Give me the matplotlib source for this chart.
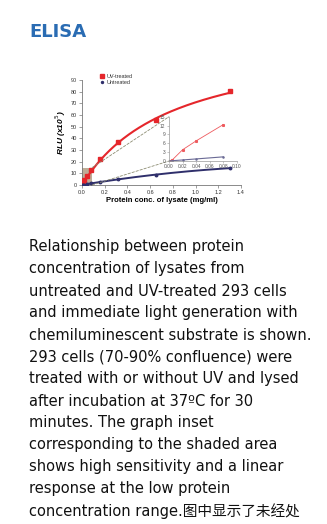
import numpy as np
import matplotlib
matplotlib.use("Agg")
import matplotlib.pyplot as plt
from matplotlib.patches import Rectangle, ConnectionPatch

# ---- data ----
conc = [0.0, 0.01, 0.02, 0.04, 0.08, 0.16, 0.32, 0.65, 1.3]
uv_treated = [0.5, 2.0, 4.3, 7.4, 12.5, 22.0, 36.5, 56.0, 80.5]
untreated = [0.0, 0.2, 0.4, 0.7, 1.4, 2.8, 5.3, 8.5, 14.5]

inset_conc = [0.0, 0.005, 0.02, 0.04, 0.08]
inset_uv = [0.0, 0.4, 3.8, 6.8, 12.3]
inset_untreated = [0.0, 0.1, 0.35, 0.7, 1.4]

main_xticks = [0.0, 0.2, 0.4, 0.6, 0.8, 1.0, 1.2, 1.4]
main_yticks = [0, 10, 20, 30, 40, 50, 60, 70, 80, 90]
inset_xticks = [0.00, 0.02, 0.04, 0.06, 0.08, 0.10]
inset_yticks = [0, 3, 6, 9, 12, 15]

paragraph = [
    "Relationship between protein",
    "concentration of lysates from",
    "untreated and UV-treated 293 cells",
    "and immediate light generation with",
    "chemiluminescent substrate is shown.",
    "293 cells (70-90% confluence) were",
    "treated with or without UV and lysed",
    "after incubation at 37ºC for 30",
    "minutes. The graph inset",
    "corresponding to the shaded area",
    "shows high sensitivity and a linear",
    "response at the low protein",
    "concentration range.图中显示了未经处",
]

RED = "#e5262b"
NAVY = "#2f2f6b"
W, H = 327, 524
fig = plt.figure(figsize=(W / 100, H / 100), dpi=100)
fig.patch.set_facecolor("white")

def fx(px):
    return px / W

def fy(py):
    return 1 - py / H

# title
fig.text(fx(29), fy(32), "ELISA", color="#2a6cb3", fontsize=13, fontweight="bold",
         family="DejaVu Sans", va="center", ha="left")

chart_font = "Liberation Sans"
# main axes
ax = fig.add_axes([fx(82), fy(185), fx(241) - fx(82), fy(80) - fy(185)])
ax.set_xlim(0, 1.4)
ax.set_ylim(0, 90)
for s in ["top", "right"]:
    ax.spines[s].set_visible(False)
for s in ["left", "bottom"]:
    ax.spines[s].set_color("#777777")
    ax.spines[s].set_linewidth(0.6)
ax.set_xticks(main_xticks)
ax.set_xticklabels([f"{v:.1f}" for v in main_xticks])
ax.set_yticks(main_yticks)
ax.tick_params(length=2, width=0.5, color="#777777", labelsize=4, pad=1.5, labelcolor="#333333")
for lab in ax.get_xticklabels() + ax.get_yticklabels():
    lab.set_family(chart_font)

# shaded region
ax.add_patch(Rectangle((0, 0), 0.09, 15, facecolor="#a89275", alpha=0.75, edgecolor="none", zorder=1))

# smooth trend curves (saturation fit for UV via reciprocal regression, quadratic for untreated)
cx = np.array(conc)
cu = np.array(uv_treated)
slope, icpt = np.polyfit(1 / cx[6:], 1 / cu[6:], 1)
vmax, km = 1 / icpt, slope / icpt
xs = np.linspace(0, 1.3, 200)
ax.plot(xs, vmax * xs / (km + xs), color=RED, lw=1.5, zorder=3)
pn = np.polyfit(conc, untreated, 2)
ax.plot(xs, np.polyval(pn, xs), color=NAVY, lw=1.4, zorder=3)
ax.plot(conc, uv_treated, "s", color=RED, ms=3, zorder=4, label="UV-treated")
ax.plot(conc, untreated, "o", color=NAVY, ms=1.8, zorder=4, label="Untreated")

ax.set_xlabel("Protein conc. of lysate (mg/ml)", fontsize=5.5, fontweight="bold",
              family=chart_font, labelpad=1.5)
ax.set_ylabel("RLU (x10$^{5}$)", fontsize=6, fontweight="bold", fontstyle="italic",
              family=chart_font, labelpad=2)
leg = ax.legend(loc="upper left", bbox_to_anchor=(0.1, 1.08), frameon=False,
                prop={"family": chart_font, "size": 4}, handlelength=0.6,
                handletextpad=0.4, borderpad=0, labelspacing=0.15, markerscale=0.8)
for t in leg.get_texts():
    t.set_color("#333333")

# inset
ins = fig.add_axes([fx(169), fy(161), fx(236.7) - fx(169), fy(116.7) - fy(161)])
ins.set_facecolor("white")
ins.set_xlim(0, 0.10)
ins.set_ylim(0, 15)
for s in ["top", "right"]:
    ins.spines[s].set_visible(False)
for s in ["left", "bottom"]:
    ins.spines[s].set_color("#999999")
    ins.spines[s].set_linewidth(0.5)
ins.set_xticks(inset_xticks)
ins.set_xticklabels([f"{v:.2f}" for v in inset_xticks])
ins.set_yticks(inset_yticks)
ins.tick_params(length=1.5, width=0.4, color="#999999", labelsize=3.5, pad=1, labelcolor="#555555")
for lab in ins.get_xticklabels() + ins.get_yticklabels():
    lab.set_family(chart_font)
ins.plot(inset_conc, inset_uv, color="#ee5a5e", lw=0.6, marker="s", ms=1.2)
ins.plot(inset_conc, inset_untreated, color="#6a6a95", lw=0.8, marker="o", ms=0.8)

# dashed connector lines
for (ya, yb) in [(15, 15), (0, 0)]:
    cp = ConnectionPatch(xyA=(0.09, ya), coordsA=ax.transData,
                         xyB=(0, yb), coordsB=ins.transData,
                         linestyle=(0, (3, 2)), color="#8c8c72", lw=0.6, zorder=2)
    fig.add_artist(cp)
ins.set_zorder(5)

# paragraph
for i, line in enumerate(paragraph):
    fig.text(fx(29), fy(247 + 22 * i), line, fontsize=10.55, color="#111111",
             family=["DejaVu Sans", "Noto Sans CJK SC"], va="center", ha="left")

fig.savefig("out.png", dpi=100, facecolor="white")
